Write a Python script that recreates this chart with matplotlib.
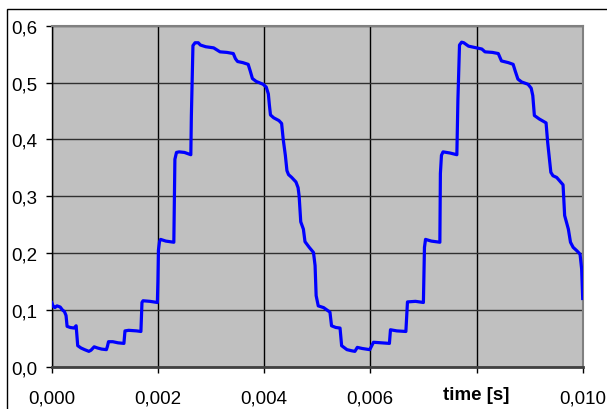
import matplotlib
matplotlib.use("Agg")
import matplotlib.pyplot as plt
from matplotlib.patches import Rectangle
import matplotlib.transforms as mtransforms

plt.rcParams['font.family'] = ['Liberation Sans', 'DejaVu Sans']

# measured signal, time in ms
time_ms = [0.00, 0.03, 0.06, 0.10, 0.16, 0.20, 0.24, 0.27, 0.29, 0.35,
           0.42, 0.46, 0.48, 0.49, 0.55, 0.62, 0.70, 0.74, 0.80, 0.86,
           0.94, 1.03, 1.05, 1.07, 1.15, 1.25, 1.36, 1.38, 1.45, 1.60,
           1.68, 1.70, 1.72, 1.85, 1.99, 2.00, 2.01, 2.03, 2.05, 2.15,
           2.30, 2.31, 2.32, 2.35, 2.40, 2.50, 2.62, 2.63, 2.65, 2.66,
           2.70, 2.76, 2.80, 2.90, 3.05, 3.10, 3.17, 3.30, 3.42, 3.46,
           3.50, 3.60, 3.70, 3.74, 3.78, 3.85, 3.98, 4.04, 4.08, 4.10,
           4.12, 4.18, 4.28, 4.33, 4.36, 4.40, 4.43, 4.46, 4.52, 4.60,
           4.64, 4.66, 4.69, 4.74, 4.77, 4.85, 4.93, 4.96, 4.98, 5.02,
           5.12, 5.24, 5.27, 5.35, 5.43, 5.46, 5.56, 5.65, 5.71, 5.755,
           5.85, 5.99, 6.06, 6.20, 6.36, 6.38, 6.50, 6.67, 6.70, 6.85,
           7.00, 7.02, 7.04, 7.15, 7.31, 7.32, 7.34, 7.37, 7.50, 7.63,
           7.65, 7.68, 7.72, 7.76, 7.85, 8.00, 8.10, 8.16, 8.30, 8.41,
           8.47, 8.60, 8.69, 8.73, 8.78, 8.85, 8.97, 9.03, 9.06, 9.09,
           9.18, 9.31, 9.34, 9.40, 9.44, 9.51, 9.63, 9.66, 9.73, 9.77,
           9.82, 9.89, 9.95, 9.98, 10.00]
signal = [0.113, 0.106, 0.104, 0.107, 0.105, 0.100, 0.097, 0.090, 0.071, 0.069,
          0.068, 0.072, 0.050, 0.037, 0.033, 0.030, 0.027, 0.029, 0.035, 0.033,
          0.031, 0.030, 0.036, 0.044, 0.044, 0.042, 0.041, 0.063, 0.064, 0.063,
          0.062, 0.113, 0.116, 0.115, 0.113, 0.150, 0.205, 0.220, 0.224, 0.221,
          0.219, 0.300, 0.365, 0.377, 0.378, 0.377, 0.373, 0.440, 0.520, 0.565,
          0.570, 0.570, 0.566, 0.563, 0.561, 0.558, 0.554, 0.553, 0.551, 0.542,
          0.537, 0.535, 0.532, 0.520, 0.507, 0.502, 0.497, 0.492, 0.480, 0.460,
          0.443, 0.438, 0.433, 0.428, 0.400, 0.372, 0.345, 0.338, 0.333, 0.325,
          0.315, 0.300, 0.255, 0.242, 0.220, 0.210, 0.201, 0.178, 0.125, 0.107,
          0.104, 0.096, 0.072, 0.069, 0.068, 0.037, 0.030, 0.028, 0.027, 0.034,
          0.032, 0.030, 0.043, 0.042, 0.041, 0.065, 0.063, 0.062, 0.114, 0.115,
          0.113, 0.210, 0.224, 0.221, 0.219, 0.340, 0.372, 0.378, 0.376, 0.373,
          0.470, 0.566, 0.571, 0.570, 0.564, 0.561, 0.559, 0.554, 0.553, 0.551,
          0.538, 0.535, 0.532, 0.520, 0.506, 0.501, 0.497, 0.490, 0.477, 0.442,
          0.436, 0.429, 0.395, 0.342, 0.336, 0.333, 0.320, 0.266, 0.242, 0.219,
          0.210, 0.204, 0.198, 0.172, 0.120]

xticks = [0.000, 0.002, 0.004, 0.006, 0.008, 0.010]
xticklabels = ['0,000', '0,002', '0,004', '0,006', '', '0,010']
yticks = [0.0, 0.1, 0.2, 0.3, 0.4, 0.5, 0.6]
yticklabels = ['0,0', '0,1', '0,2', '0,3', '0,4', '0,5', '0,6']

time_s = [t / 1000.0 for t in time_ms]

fig = plt.figure(figsize=(6.07, 4.10), dpi=100)
ax = fig.add_axes([51.7 / 607, 1 - 367.7 / 410, (582.7 - 51.7) / 607, (367.7 - 26.7) / 410])
ax.set_facecolor('#C0C0C0')

# outer chart frame
fig.patches.append(Rectangle((7 / 607, -0.1), 1.2, 1 - 10 / 410 + 0.1,
                             transform=fig.transFigure, fill=False,
                             edgecolor='black', linewidth=1.0))

ax.plot(time_s, signal, color='#0000FF', linewidth=2.3, zorder=3)

ax.set_xlim(0, 0.010)
ax.set_ylim(0, 0.6)
ax.set_xticks(xticks)
ax.set_xticklabels(xticklabels)
ax.set_yticks(yticks)
ax.set_yticklabels(yticklabels)

ax.xaxis.grid(True, color='black', linewidth=1.0)
ax.yaxis.grid(True, color='#303030', linewidth=1.0)
ax.set_axisbelow(True)

ax.spines['left'].set_color('black')
ax.spines['left'].set_linewidth(1.0)
ax.spines['bottom'].set_color('#404040')
ax.spines['bottom'].set_linewidth(2.0)
ax.spines['top'].set_color('#808080')
ax.spines['right'].set_color('#808080')
ax.spines['top'].set_linewidth(1.5)
ax.spines['right'].set_linewidth(1.5)

ax.tick_params(axis='both', direction='out', length=4.5, width=1.0,
               color='black', labelsize=13.5)
ax.tick_params(axis='y', pad=6)
ax.tick_params(axis='x', pad=12)

trans = mtransforms.blended_transform_factory(ax.transData, fig.transFigure)
ax.text(0.008, 1 - 400 / 410, 'time [s]', transform=trans, ha='center',
        va='baseline', fontsize=13.5, fontweight='bold')

fig.savefig('out.png', dpi=100)
